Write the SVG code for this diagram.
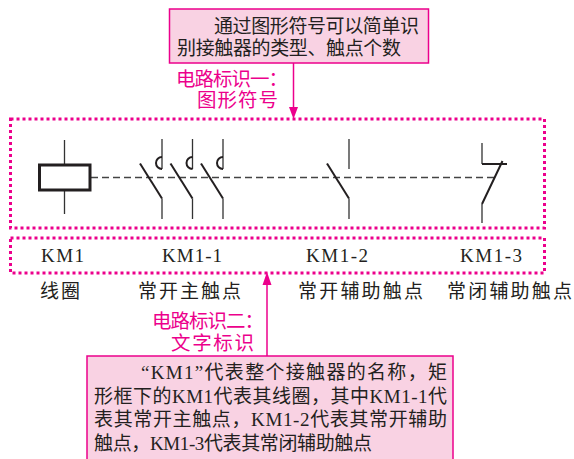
<svg xmlns="http://www.w3.org/2000/svg" width="574" height="459" viewBox="0 0 574 459">
<style>
text{font-family:"Liberation Serif","Noto Sans CJK SC",serif;font-size:19px;fill:#231f20}
.p{fill:#ec008c;font-size:19.500px}
.box{fill:#f9d2e3;stroke:#ec008c;stroke-width:1.500}
.dot{fill:none;stroke:#ec008c;stroke-width:3;stroke-dasharray:3 3}
.thin{fill:none;stroke:#333;stroke-width:1.300}
.thick{fill:none;stroke:#231f20;stroke-width:2}
.arr{fill:none;stroke:#ec008c;stroke-width:1.500}
</style>
<defs>
<g id="c"><path class="thin" d="M0 0V30M0 59.500V80"/><path class="thick" d="M-22 24.500L0 59.500"/></g>
<path id="hook" class="thick" d="M0 18A6 6 0 0 0 0 30"/>
</defs>
<rect width="574" height="459" fill="#fff"/>
<g id="connectors">
<path class="arr" d="M293.500 63V112"/><path class="p" d="M289 107H298L293.500 119Z"/>
<path class="arr" d="M267 356V280"/><path class="p" d="M262.500 285H271.500L267 272Z"/>
<path d="M91 177.500H494" fill="none" stroke="#444" stroke-width="1.300" stroke-dasharray="7 4"/>
</g>
<g id="note-top"><rect class="box" x="169.500" y="9" width="259" height="54"/>
<text x="214" y="33" textLength="205">通过图形符号可以简单识</text>
<text x="177" y="55" textLength="224">别接触器的类型、触点个数</text></g>
<g id="label-1"><text class="p" x="176" y="86" textLength="112">电路标识一：</text><text class="p" x="197" y="107" textLength="81">图形符号</text></g>
<g id="frame-symbols"><rect class="dot" x="10.500" y="119" width="534" height="109"/></g>
<g id="frame-names"><rect class="dot" x="10.500" y="238" width="534" height="35"/></g>
<g id="coil"><path class="thin" d="M64.500 140V165M64.500 190V214"/><rect x="39.500" y="165" width="50.500" height="25" fill="#fff" stroke="#231f20" stroke-width="3"/></g>
<g id="main-contacts"><use href="#c" x="162" y="139"/><use href="#hook" x="162" y="139"/><use href="#c" x="192.500" y="139"/><use href="#hook" x="192.500" y="139"/><use href="#c" x="223" y="139"/><use href="#hook" x="223" y="139"/></g>
<g id="aux-no"><use href="#c" x="349" y="139"/></g>
<g id="aux-nc"><path class="thin" d="M482 143V164M482 204V223"/><path class="thick" d="M482 164H507M482 204L502.500 161"/></g>
<g id="names">
<text x="41" y="262" textLength="43">KM1</text><text x="162" y="262" textLength="60">KM1-1</text><text x="306" y="262" textLength="62">KM1-2</text><text x="460" y="262" textLength="62">KM1-3</text>
<text x="40" y="298" textLength="40">线圈</text><text x="138" y="298" textLength="103">常开主触点</text><text x="298" y="298" textLength="125">常开辅助触点</text><text x="447" y="298" textLength="125">常闭辅助触点</text>
</g>
<g id="label-2"><text class="p" x="152" y="328" textLength="112">电路标识二：</text><text class="p" x="171" y="350" textLength="83">文字标识</text></g>
<g id="note-bottom"><rect class="box" x="87" y="356" width="366" height="110"/>
<text x="141" y="379" textLength="306">“KM1”代表整个接触器的名称，矩</text>
<text x="94" y="402.500" textLength="353">形框下的KM1代表其线圈，其中KM1-1代</text>
<text x="94" y="426" textLength="353">表其常开主触点，KM1-2代表其常开辅助</text>
<text x="94" y="450" textLength="278">触点，KM1-3代表其常闭辅助触点</text></g>
</svg>
